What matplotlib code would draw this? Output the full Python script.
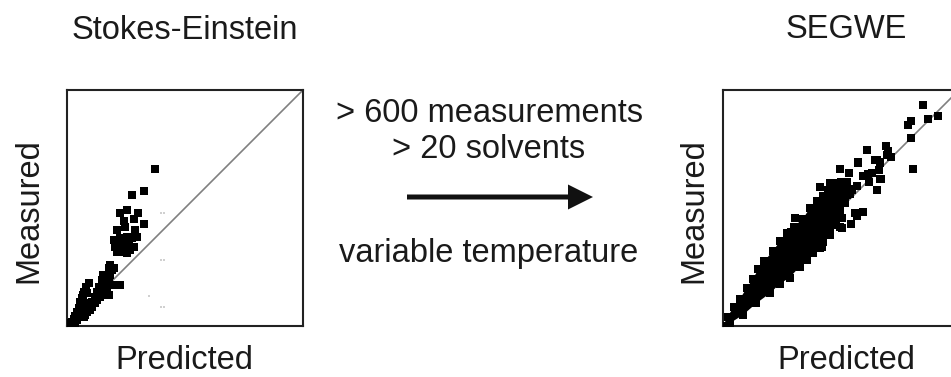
import matplotlib
matplotlib.use("Agg")
import matplotlib.pyplot as plt
from matplotlib.patches import FancyArrow

plt.rcParams['font.family'] = ['Liberation Sans', 'DejaVu Sans']

# Stokes-Einstein: predicted vs measured (axes run 0..1)
se_x = [0.372, 0.328, 0.275, 0.226, 0.256, 0.302, 0.243, 0.283, 0.328, 0.212,
        0.247, 0.289, 0.198, 0.226, 0.254, 0.275, 0.297, 0.205, 0.233, 0.261,
        0.282, 0.212, 0.247, 0.268, 0.254, 0.219,
        0.184, 0.198, 0.191, 0.153, 0.162, 0.148, 0.155, 0.177, 0.191, 0.226,
        0.141, 0.169, 0.127, 0.148, 0.169, 0.120, 0.141, 0.155, 0.177, 0.106,
        0.127, 0.092, 0.099, 0.078, 0.134, 0.184, 0.177,
        0.092, 0.082, 0.073, 0.068, 0.064, 0.056, 0.054, 0.071, 0.049, 0.064,
        0.042, 0.056, 0.035, 0.049, 0.028, 0.042, 0.021, 0.035, 0.014, 0.085,
        0.106, 0.120, 0.085, 0.071]
se_y = [0.665, 0.573, 0.556, 0.477, 0.490, 0.477, 0.445, 0.452, 0.432, 0.407,
        0.421, 0.407, 0.364, 0.371, 0.379, 0.371, 0.379, 0.336, 0.343, 0.350,
        0.336, 0.315, 0.315, 0.322, 0.308, 0.357,
        0.258, 0.244, 0.237, 0.216, 0.202, 0.195, 0.181, 0.181, 0.174, 0.174,
        0.167, 0.160, 0.145, 0.145, 0.138, 0.124, 0.124, 0.131, 0.131, 0.103,
        0.110, 0.082, 0.068, 0.047, 0.167, 0.216, 0.244,
        0.184, 0.167, 0.145, 0.131, 0.117, 0.103, 0.089, 0.096, 0.075, 0.075,
        0.061, 0.054, 0.042, 0.040, 0.028, 0.025, 0.018, 0.014, 0.011, 0.138,
        0.082, 0.096, 0.061, 0.040]

# faint specks in the left panel
faint_x = [0.398, 0.412, 0.398, 0.412, 0.398, 0.412, 0.346]
faint_y = [0.477, 0.477, 0.280, 0.280, 0.082, 0.082, 0.127]

# SEGWE: outline of the dense band of points
band_x = [0.000, 0.020, 0.045, 0.072, 0.100, 0.127, 0.150, 0.175, 0.212, 0.242,
          0.270, 0.300, 0.339, 0.369, 0.400, 0.425, 0.467, 0.500, 0.524,
          0.540, 0.538, 0.515, 0.496, 0.480, 0.467, 0.439, 0.410, 0.383, 0.355,
          0.325, 0.282, 0.240, 0.198, 0.141, 0.085, 0.028, 0.010]
band_y = [0.000, 0.040, 0.080, 0.115, 0.160, 0.200, 0.240, 0.275, 0.318, 0.360,
          0.392, 0.420, 0.455, 0.500, 0.530, 0.550, 0.595, 0.610, 0.611,
          0.580, 0.560, 0.520, 0.490, 0.455, 0.430, 0.390, 0.345, 0.310, 0.280,
          0.251, 0.205, 0.178, 0.138, 0.096, 0.047, 0.011, 0.000]

# SEGWE: individual points outside the dense band
segwe_x = [0.849, 0.870, 0.912, 0.785, 0.795, 0.797, 0.804, 0.609, 0.691, 0.701,
           0.711, 0.571, 0.644, 0.665, 0.663, 0.496, 0.535, 0.595, 0.616, 0.630,
           0.668, 0.620, 0.651, 0.567, 0.545, 0.517, 0.496, 0.467, 0.446, 0.524,
           0.573, 0.651, 0.665, 0.694, 0.661, 0.665, 0.510, 0.559, 0.592, 0.569,
           0.503, 0.541, 0.503, 0.453, 0.411, 0.418, 0.305, 0.411, 0.453, 0.494,
           0.452, 0.417, 0.410, 0.339, 0.325, 0.459, 0.494, 0.339, 0.290, 0.219,
           0.177, 0.487, 0.595, 0.439, 0.425, 0.404]
segwe_y = [0.938, 0.877, 0.889, 0.850, 0.867, 0.797, 0.667, 0.747, 0.761, 0.740,
           0.715, 0.695, 0.705, 0.695, 0.662, 0.667, 0.648, 0.634, 0.644, 0.648,
           0.624, 0.609, 0.578, 0.592, 0.578, 0.599, 0.592, 0.592, 0.578, 0.556,
           0.692, 0.703, 0.689, 0.725, 0.661, 0.621, 0.607, 0.477, 0.484, 0.466,
           0.456, 0.432, 0.414, 0.395, 0.364, 0.336, 0.456, 0.590, 0.605, 0.421,
           0.386, 0.357, 0.329, 0.294, 0.251, 0.520, 0.492, 0.428, 0.400, 0.315,
           0.251, 0.605, 0.482, 0.393, 0.358, 0.337]

W, H = 951, 377
fig = plt.figure(figsize=(W / 100, H / 100), dpi=100)
fig.patch.set_facecolor('white')

txt = '#1a1a1a'
fs = 23.5
msize = 26


def panel(left):
    ax = fig.add_axes([left / W, 51 / H, 236 / W, 236 / H])
    ax.set_xlim(0, 1)
    ax.set_ylim(0, 1)
    ax.set_xticks([])
    ax.set_yticks([])
    for s in ax.spines.values():
        s.set_linewidth(1.5)
        s.set_color('#222222')
    ax.plot([0, 1], [0, 1], color='#808080', lw=1.2, zorder=1)
    return ax


ax1 = panel(67)
ax1.scatter(faint_x, faint_y, s=1.5, marker='s', color='#d0d0d0', linewidths=0, zorder=2)
ax1.scatter(se_x, se_y, s=msize, marker='s', color='black', linewidths=0, zorder=3)

ax2 = panel(723)
ax2.fill(band_x, band_y, color='black', lw=0, zorder=2)
ax2.scatter(band_x, band_y, s=msize, marker='s', color='black', linewidths=0, zorder=3)
ax2.scatter(segwe_x, segwe_y, s=msize, marker='s', color='black', linewidths=0, zorder=3)

# overlay in pixel units for the labels and the arrow
ov = fig.add_axes([0, 0, 1, 1], zorder=5)
ov.set_xlim(0, W)
ov.set_ylim(H, 0)
ov.axis('off')
ov.patch.set_alpha(0)

ov.text(185, 39, 'Stokes-Einstein', ha='center', va='baseline', fontsize=fs, color=txt)
ov.text(846, 38, 'SEGWE', ha='center', va='baseline', fontsize=fs, color=txt)
ov.text(184, 369, 'Predicted', ha='center', va='baseline', fontsize=fs, color=txt)
ov.text(846, 369, 'Predicted', ha='center', va='baseline', fontsize=fs, color=txt)
ov.text(37, 211, 'Measured', ha='center', va='baseline', rotation=90,
        rotation_mode='anchor', fontsize=fs, color=txt)
ov.text(702, 211, 'Measured', ha='center', va='baseline', rotation=90,
        rotation_mode='anchor', fontsize=fs, color=txt)

ov.text(489, 122, '> 600 measurements', ha='center', va='baseline', fontsize=fs, color=txt)
ov.text(489, 158, '> 20 solvents', ha='center', va='baseline', fontsize=fs, color=txt)
ov.text(489, 262, 'variable temperature', ha='center', va='baseline', fontsize=fs, color=txt)
ov.add_patch(FancyArrow(407, 197, 186, 0, width=5, head_width=25, head_length=25,
                        length_includes_head=True, color='#111111', lw=0))

fig.savefig('out.png', dpi=100)
